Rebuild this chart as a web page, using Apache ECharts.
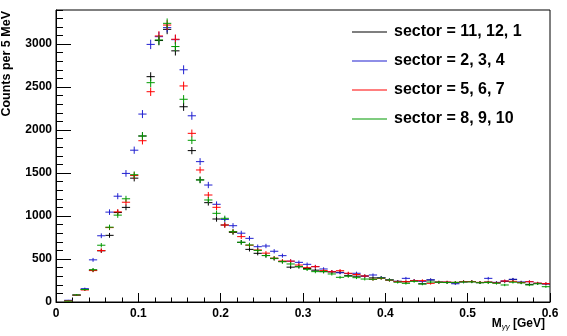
<!DOCTYPE html>
<html>
<head>
<meta charset="utf-8">
<script src="https://cdn.jsdelivr.net/npm/echarts@6/dist/echarts.min.js"></script>
<style>
  html, body { margin: 0; padding: 0; background: #fff; }
  #chart { width: 567px; height: 336px; }
</style>
</head>
<body>
<div id="chart"></div>
<script>
// Diphoton invariant mass, bin centres in GeV (10 MeV wide bins)
const massBins = [
  0.015, 0.025, 0.035, 0.045, 0.055, 0.065, 0.075, 0.085, 0.095, 0.105,
  0.115, 0.125, 0.135, 0.145, 0.155, 0.165, 0.175, 0.185, 0.195, 0.205,
  0.215, 0.225, 0.235, 0.245, 0.255, 0.265, 0.275, 0.285, 0.295, 0.305,
  0.315, 0.325, 0.335, 0.345, 0.355, 0.365, 0.375, 0.385, 0.395, 0.405,
  0.415, 0.425, 0.435, 0.445, 0.455, 0.465, 0.475, 0.485, 0.495, 0.505,
  0.515, 0.525, 0.535, 0.545, 0.555, 0.565, 0.575, 0.585, 0.595
];
const binWidth = 0.01;

const sectors11_12_1 = [
  15, 80, 145, 370, 595, 775, 1040, 1100, 1440, 1930,
  2620, 3040, 3170, 2920, 2270, 1760, 1420, 1155, 965, 895,
  810, 694, 612, 566, 540, 505, 470, 405, 410, 390,
  370, 353, 350, 345, 306, 300, 302, 280, 283, 256,
  240, 235, 248, 212, 256, 232, 228, 222, 236, 236,
  225, 232, 226, 240, 262, 228, 205, 215, 210
];
const sectors2_3_4 = [
  20, 80, 155, 490, 770, 1045, 1230, 1495, 1765, 2185,
  2995, 3085, 3190, 3050, 2700, 2165, 1632, 1360, 1136, 960,
  887, 800, 740, 643, 651, 590, 539, 475, 461, 438,
  411, 384, 353, 340, 330, 334, 300, 314, 283, 258,
  240, 275, 250, 240, 258, 228, 230, 212, 234, 238,
  226, 275, 228, 244, 264, 232, 236, 218, 212
];
const sectors5_6_7 = [
  12, 80, 140, 365, 598, 865, 1048, 1160, 1470, 1875,
  2445, 3093, 3220, 3055, 2512, 1961, 1535, 1244, 1101, 895,
  818, 760, 660, 605, 568, 510, 477, 475, 430, 399,
  411, 365, 352, 364, 334, 320, 302, 264, 275, 254,
  236, 236, 248, 248, 217, 230, 232, 228, 236, 238,
  228, 230, 222, 244, 240, 226, 236, 220, 214
];
const sectors8_9_10 = [
  10, 82, 145, 375, 660, 870, 1010, 1200, 1480, 1930,
  2550, 3047, 3240, 2970, 2357, 1880, 1419, 1186, 1031, 973,
  818, 694, 663, 600, 540, 508, 469, 442, 411, 380,
  353, 353, 326, 287, 300, 283, 267, 264, 278, 256,
  230, 217, 240, 209, 232, 229, 226, 228, 232, 234,
  224, 226, 218, 198, 230, 222, 198, 212, 178
];

const seriesNames = ['sector = 11, 12, 1', 'sector = 2, 3, 4', 'sector = 5, 6, 7', 'sector = 8, 9, 10'];
const seriesValues = [sectors11_12_1, sectors2_3_4, sectors5_6_7, sectors8_9_10];
const seriesColors = ['#000000', '#1f1fd0', '#ff0000', '#009a00'];

const xTickLabels = ['0', '0.1', '0.2', '0.3', '0.4', '0.5', '0.6'];
const yMax = 3395;

const FONT = '"Liberation Sans", Arial, Helvetica, sans-serif';

// Histogram points drawn ROOT-style: horizontal bar across the bin, vertical Poisson error bar
function crossRenderer(color) {
  return function (params, api) {
    const x = api.value(0);
    const y = api.value(1);
    const err = Math.sqrt(Math.max(y, 0));
    const left = api.coord([x - binWidth / 2, y]);
    const right = api.coord([x + binWidth / 2, y]);
    const lo = api.coord([x, Math.max(y - err, 0)]);
    const hi = api.coord([x, y + err]);
    const style = { stroke: color, lineWidth: 1 };
    return {
      type: 'group',
      children: [
        { type: 'line', shape: { x1: left[0], y1: left[1], x2: right[0], y2: right[1] }, style: style },
        { type: 'line', shape: { x1: lo[0], y1: lo[1], x2: hi[0], y2: hi[1] }, style: style }
      ]
    };
  };
}

const series = seriesNames.map(function (name, k) {
  return {
    name: name,
    type: 'custom',
    xAxisIndex: 0,
    yAxisIndex: 0,
    itemStyle: { color: seriesColors[k] },
    renderItem: crossRenderer(seriesColors[k]),
    encode: { x: 0, y: 1 },
    data: massBins.map(function (m, i) { return [m, seriesValues[k][i]]; }),
    z: 2 + k
  };
});

const chart = echarts.init(document.getElementById('chart'), null, { renderer: 'canvas' });

chart.setOption({
  animation: false,
  backgroundColor: '#ffffff',
  grid: {
    left: 56, right: 17, top: 10, bottom: 34,
    show: true, borderColor: '#000', borderWidth: 1, backgroundColor: 'transparent'
  },
  legend: {
    orient: 'vertical',
    left: 347,
    top: 19,
    itemGap: 13,
    itemWidth: 35,
    itemHeight: 1,
    icon: 'rect',
    data: seriesNames.map(function (n, k) {
      return { name: n, itemStyle: { color: seriesColors[k] } };
    }),
    textStyle: { fontFamily: FONT, fontWeight: 'bold', fontSize: 16, lineHeight: 16, color: '#000', padding: [0, 0, 0, 2] }
  },
  xAxis: {
    type: 'value',
    min: 0, max: 0.6, interval: 0.1,
    axisLine: { show: true, onZero: false, lineStyle: { color: '#000', width: 1 } },
    axisTick: { show: true, inside: true, length: 9, lineStyle: { color: '#000' } },
    minorTick: { show: true, splitNumber: 5, length: 4.5, lineStyle: { color: '#000' } },
    splitLine: { show: false },
    axisLabel: {
      fontFamily: FONT, fontWeight: 'bold', fontSize: 12, color: '#000', margin: 6,
      formatter: function (v) {
        const idx = Math.round(v * 10);
        return xTickLabels[idx] !== undefined ? xTickLabels[idx] : '';
      }
    }
  },
  yAxis: [
    {
      type: 'value',
      min: 0, max: yMax, interval: 500,
      axisLine: { show: true, onZero: false, lineStyle: { color: '#000', width: 1 } },
      axisTick: { show: true, inside: true, length: 15, lineStyle: { color: '#000' } },
      splitLine: { show: false },
      axisLabel: {
        fontFamily: FONT, fontWeight: 'bold', fontSize: 12, color: '#000', margin: 4,
        showMaxLabel: false,
        formatter: function (v) { return String(Math.round(v)); }
      }
    },
    {
      type: 'value',
      position: 'left',
      min: 0, max: yMax, interval: 100,
      axisLine: { show: false },
      axisTick: { show: true, inside: true, length: 7, lineStyle: { color: '#000' } },
      splitLine: { show: false },
      axisLabel: { show: false }
    }
  ],
  graphic: [
    {
      type: 'text',
      x: 7, y: 11,
      rotation: Math.PI / 2,
      style: {
        text: 'Counts per 5 MeV',
        fontFamily: FONT, fontWeight: 'bold', fontSize: 12.5, fill: '#000',
        align: 'right', verticalAlign: 'middle'
      }
    },
    {
      type: 'text',
      x: 545, y: 331,
      style: {
        text: 'M{sub|γγ} [GeV]',
        fontFamily: FONT, fontWeight: 'bold', fontSize: 12, fill: '#000',
        align: 'right', verticalAlign: 'bottom',
        rich: {
          sub: { fontFamily: FONT, fontSize: 8, fontWeight: 'normal', fontStyle: 'italic', fill: '#000', padding: [6, 0, 0, 0] }
        }
      }
    }
  ],
  series: series
});
</script>
</body>
</html>
